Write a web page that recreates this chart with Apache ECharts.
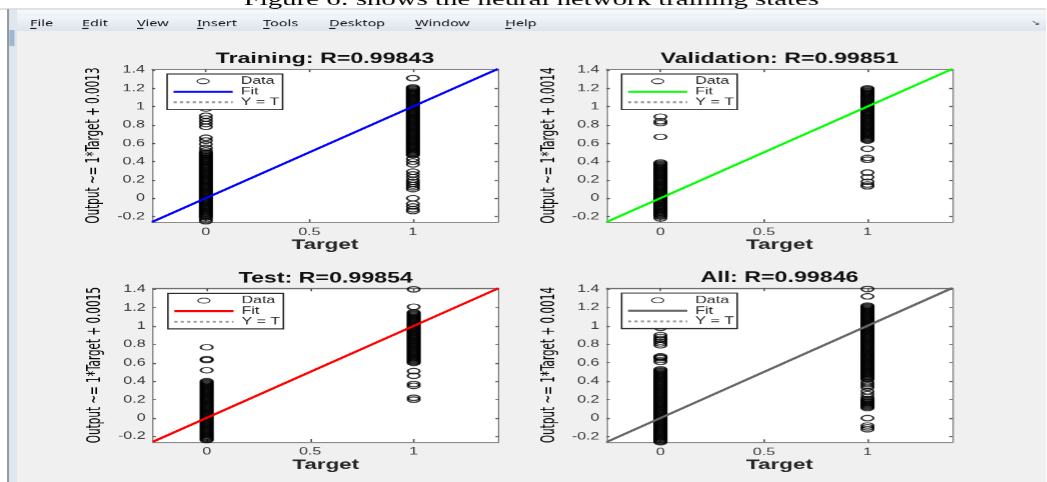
<!DOCTYPE html>
<html><head><meta charset="utf-8">
<script src="https://cdn.jsdelivr.net/npm/echarts@6/dist/echarts.min.js"></script>
<style>
html,body{margin:0;padding:0;background:#fff;overflow:hidden;}
#wrap{width:1047px;height:482px;overflow:hidden;position:relative;}
#c{width:654.375px;height:482px;transform:scaleX(1.6);transform-origin:0 0;}
</style></head><body><div id="wrap"><div id="c"></div></div>
<script>
// ---------- data ----------
const caption = 'Figure 6: shows the neural network training states';
const menuItems = ['File','Edit','View','Insert','Tools','Desktop','Window','Help'];
const panelKeys = ['Training','Validation','Test','All'];
const panelTitles = ['Training: R=0.99843','Validation: R=0.99851','Test: R=0.99854','All: R=0.99846'];
const yAxisNames = ['Output ~= 1*Target + 0.0013','Output ~= 1*Target + 0.0014','Output ~= 1*Target + 0.0015','Output ~= 1*Target + 0.0014'];
const fitSlopes = [1, 1, 1, 1];
const fitIntercepts = [0.0013, 0.0014, 0.0015, 0.0014];
const legendLabels = ['Data', 'Fit', 'Y = T'];
const xTickValues = [0, 0.5, 1];
const yTickValues = [-0.2, 0, 0.2, 0.4, 0.6, 0.8, 1, 1.2, 1.4];
const axisMin = -0.26;
const axisMax = 1.41;

// network outputs for samples whose target is 0 and samples whose target is 1
const trainingAt0 = [0.98, 0.9, 0.87, 0.84, 0.81, 0.78, 0.66, 0.63, 0.59, 0.55, 0.52, 0.5, 0.49, 0.48, 0.47, 0.46, 0.45, 0.44, 0.43, 0.42, 0.41, 0.4, 0.39, 0.38, 0.37, 0.36, 0.35, 0.34, 0.33, 0.32, 0.31, 0.3, 0.29, 0.28, 0.27, 0.26, 0.25, 0.24, 0.23, 0.22, 0.21, 0.2, 0.19, 0.18, 0.17, 0.16, 0.15, 0.14, 0.13, 0.12, 0.11, 0.1, 0.09, 0.08, 0.07, 0.06, 0.05, 0.04, 0.03, 0.02, 0.01, 0, -0.01, -0.02, -0.03, -0.04, -0.05, -0.06, -0.07, -0.08, -0.09, -0.1, -0.11, -0.12, -0.13, -0.14, -0.15, -0.16, -0.17, -0.18, -0.19, -0.2, -0.21, -0.23, -0.25];
const trainingAt1 = [1.31, 1.21, 1.2, 1.19, 1.18, 1.17, 1.16, 1.15, 1.14, 1.13, 1.12, 1.11, 1.1, 1.09, 1.08, 1.07, 1.06, 1.05, 1.04, 1.03, 1.02, 1.01, 1.0, 0.99, 0.98, 0.97, 0.96, 0.95, 0.94, 0.93, 0.92, 0.91, 0.9, 0.89, 0.88, 0.87, 0.86, 0.85, 0.84, 0.83, 0.82, 0.81, 0.8, 0.79, 0.78, 0.77, 0.76, 0.75, 0.74, 0.73, 0.72, 0.71, 0.7, 0.69, 0.68, 0.67, 0.66, 0.65, 0.64, 0.63, 0.62, 0.61, 0.6, 0.59, 0.58, 0.57, 0.56, 0.55, 0.54, 0.53, 0.52, 0.51, 0.5, 0.49, 0.48, 0.47, 0.43, 0.4, 0.37, 0.29, 0.26, 0.23, 0.2, 0.18, 0.16, 0.14, 0.12, 0.1, 0, -0.06, -0.09, -0.12, -0.14];
const validationAt0 = [0.89, 0.84, 0.82, 0.67, 0.39, 0.38, 0.37, 0.36, 0.35, 0.34, 0.33, 0.32, 0.31, 0.3, 0.29, 0.28, 0.27, 0.26, 0.25, 0.24, 0.23, 0.22, 0.21, 0.2, 0.19, 0.18, 0.17, 0.16, 0.15, 0.14, 0.13, 0.12, 0.11, 0.1, 0.09, 0.08, 0.07, 0.06, 0.05, 0.04, 0.03, 0.02, 0.01, 0, -0.01, -0.02, -0.03, -0.04, -0.05, -0.06, -0.07, -0.08, -0.09, -0.1, -0.11, -0.12, -0.13, -0.14, -0.15, -0.16, -0.17, -0.18, -0.19, -0.2, -0.22];
const validationAt1 = [1.2, 1.19, 1.18, 1.17, 1.16, 1.15, 1.14, 1.13, 1.12, 1.11, 1.1, 1.09, 1.08, 1.07, 1.06, 1.05, 1.04, 1.03, 1.02, 1.01, 1.0, 0.99, 0.98, 0.97, 0.96, 0.95, 0.94, 0.93, 0.92, 0.91, 0.9, 0.89, 0.88, 0.87, 0.86, 0.85, 0.84, 0.83, 0.82, 0.81, 0.8, 0.79, 0.78, 0.77, 0.76, 0.75, 0.74, 0.73, 0.72, 0.71, 0.7, 0.69, 0.68, 0.67, 0.66, 0.65, 0.64, 0.63, 0.54, 0.44, 0.42, 0.28, 0.23, 0.18, 0.15, 0.13];
const testAt0 = [0.77, 0.64, 0.63, 0.52, 0.4, 0.39, 0.38, 0.37, 0.36, 0.35, 0.34, 0.33, 0.32, 0.31, 0.3, 0.29, 0.28, 0.27, 0.26, 0.25, 0.24, 0.23, 0.22, 0.21, 0.2, 0.19, 0.18, 0.17, 0.16, 0.15, 0.14, 0.13, 0.12, 0.11, 0.1, 0.09, 0.08, 0.07, 0.06, 0.05, 0.04, 0.03, 0.02, 0.01, 0, -0.01, -0.02, -0.03, -0.04, -0.05, -0.06, -0.07, -0.08, -0.09, -0.1, -0.11, -0.12, -0.13, -0.14, -0.15, -0.16, -0.17, -0.18, -0.19, -0.2, -0.21, -0.22, -0.23, -0.24];
const testAt1 = [1.4, 1.21, 1.15, 1.14, 1.13, 1.12, 1.11, 1.1, 1.09, 1.08, 1.07, 1.06, 1.05, 1.04, 1.03, 1.02, 1.01, 1.0, 0.99, 0.98, 0.97, 0.96, 0.95, 0.94, 0.93, 0.92, 0.91, 0.9, 0.89, 0.88, 0.87, 0.86, 0.85, 0.84, 0.83, 0.82, 0.81, 0.8, 0.79, 0.78, 0.77, 0.76, 0.75, 0.74, 0.73, 0.72, 0.71, 0.7, 0.69, 0.68, 0.67, 0.66, 0.65, 0.64, 0.63, 0.62, 0.61, 0.6, 0.51, 0.46, 0.37, 0.35, 0.22, 0.2];
const allAt0 = [0.98, 0.9, 0.88, 0.86, 0.85, 0.83, 0.81, 0.79, 0.67, 0.66, 0.65, 0.63, 0.61, 0.53, 0.52, 0.51, 0.5, 0.49, 0.48, 0.47, 0.46, 0.45, 0.44, 0.43, 0.42, 0.41, 0.4, 0.39, 0.38, 0.37, 0.36, 0.35, 0.34, 0.33, 0.32, 0.31, 0.3, 0.29, 0.28, 0.27, 0.26, 0.25, 0.24, 0.23, 0.22, 0.21, 0.2, 0.19, 0.18, 0.17, 0.16, 0.15, 0.14, 0.13, 0.12, 0.11, 0.1, 0.09, 0.08, 0.07, 0.06, 0.05, 0.04, 0.03, 0.02, 0.01, 0, -0.01, -0.02, -0.03, -0.04, -0.05, -0.06, -0.07, -0.08, -0.09, -0.1, -0.11, -0.12, -0.13, -0.14, -0.15, -0.16, -0.17, -0.18, -0.19, -0.2, -0.21, -0.22, -0.23, -0.24, -0.25, -0.26];
const allAt1 = [1.4, 1.32, 1.22, 1.21, 1.2, 1.19, 1.18, 1.17, 1.16, 1.15, 1.14, 1.13, 1.12, 1.11, 1.1, 1.09, 1.08, 1.07, 1.06, 1.05, 1.04, 1.03, 1.02, 1.01, 1.0, 0.99, 0.98, 0.97, 0.96, 0.95, 0.94, 0.93, 0.92, 0.91, 0.9, 0.89, 0.88, 0.87, 0.86, 0.85, 0.84, 0.83, 0.82, 0.81, 0.8, 0.79, 0.78, 0.77, 0.76, 0.75, 0.74, 0.73, 0.72, 0.71, 0.7, 0.69, 0.68, 0.67, 0.66, 0.65, 0.64, 0.63, 0.62, 0.61, 0.6, 0.59, 0.58, 0.57, 0.56, 0.55, 0.54, 0.53, 0.52, 0.51, 0.5, 0.49, 0.48, 0.47, 0.46, 0.45, 0.44, 0.43, 0.42, 0.39, 0.37, 0.35, 0.33, 0.29, 0.26, 0.23, 0.21, 0.2, 0.19, 0.18, 0.17, 0.16, 0.15, 0.14, 0.13, 0.12, 0.11, 0, -0.08, -0.1, -0.12];

const outputsAt0 = [trainingAt0, validationAt0, testAt0, allAt0];
const outputsAt1 = [trainingAt1, validationAt1, testAt1, allAt1];

// ---------- styling / layout ----------
const fitColors = ['#0000ff', '#00ff00', '#ff0000', '#666666'];
const gridLefts = [95, 379, 95.5, 379];
const gridTops = [69, 69, 288.3, 288];
const gridW = 216;
const gridHs = [153, 153, 153.5, 154];
const menuX = [18.8, 51.3, 85.6, 123.1, 164.4, 205.6, 259.4, 315.6];
const FONT = "'Liberation Sans', Arial, sans-serif";
const NARROW = "'Liberation Sans Narrow', 'Arial Narrow', 'DejaVu Sans Condensed', sans-serif";
const ellipsePath = 'path://M0,5A7.5,5 0 1,0 15,5A7.5,5 0 1,0 0,5Z';

const grid = [], xAxis = [], yAxis = [], series = [], legend = [], graphic = [];

// window chrome
graphic.push(
  {type:'rect', z:0, shape:{x:0,y:0,width:660,height:9}, style:{fill:'#ffffff'}, silent:true},
  {type:'rect', z:0, shape:{x:0,y:0,width:4.4,height:482}, style:{fill:'#ffffff'}, silent:true},
  {type:'rect', z:0, shape:{x:4.4,y:9,width:660,height:7}, style:{fill:new echarts.graphic.LinearGradient(0,0,0,1,[{offset:0,color:'#fbfcfd'},{offset:1,color:'#eef1f5'}])}, silent:true},
  {type:'rect', z:0, shape:{x:0,y:8.5,width:660,height:1}, style:{fill:'#c4c8cc'}, silent:true},
  {type:'rect', z:0, shape:{x:4.4,y:9,width:1.2,height:473}, style:{fill:'#8e9296'}, silent:true},
  {type:'rect', z:0, shape:{x:5.6,y:9.5,width:5,height:472.5}, style:{fill:'#dfe6ee'}, silent:true},
  {type:'rect', z:0, shape:{x:5.8,y:30,width:3.2,height:16}, style:{fill:'#9fb7d3'}, silent:true},
  {type:'rect', z:0, shape:{x:10.6,y:16,width:650,height:15}, style:{fill:new echarts.graphic.LinearGradient(0,0,0,1,[{offset:0,color:'#f2f5fa'},{offset:1,color:'#dde4ee'}])}, silent:true},
  {type:'text', z:1, x:332, y:0, style:{text:caption, font:"18px 'Liberation Serif', 'Times New Roman', serif", fill:'#000', textAlign:'center', textVerticalAlign:'middle'}, silent:true},
  {type:'text', z:1, x:647, y:23, style:{text:'↘', font:"7px 'DejaVu Sans', sans-serif", fill:'#333', textAlign:'center', textVerticalAlign:'middle'}, silent:true}
);
menuItems.forEach((m, i) => {
  graphic.push({type:'text', z:1, x:menuX[i], y:23.5, style:{text:m, font:"9px 'Noto Sans', sans-serif", fill:'#111', textAlign:'left', textVerticalAlign:'middle'}, silent:true});
  graphic.push({type:'rect', z:1, shape:{x:menuX[i], y:28, width:4, height:0.8}, style:{fill:'#111'}, silent:true});
});

for (let i = 0; i < 4; i++) {
  const key = panelKeys[i];
  grid.push({left:gridLefts[i], top:gridTops[i], width:gridW, height:gridHs[i], show:true, backgroundColor:'#ffffff', borderWidth:0, containLabel:false, outerBoundsMode:'none'});
  const tickStyle = {color:'#555'};
  xAxis.push({type:'value', gridIndex:i, min:axisMin, max:axisMax, position:'bottom',
    axisLine:{show:true, onZero:false, lineStyle:{color:'#6a6a6a', width:1}},
    axisTick:{show:true, inside:true, length:3, customValues:xTickValues, lineStyle:tickStyle},
    axisLabel:{show:true, customValues:xTickValues, color:'#3a3a3a', fontSize:10, fontFamily:FONT, margin:5},
    splitLine:{show:false},
    name:'Target', nameLocation:'middle', nameGap:15,
    nameTextStyle:{fontWeight:'bold', fontSize:14, color:'#262626', fontFamily:FONT}});
  xAxis.push({type:'value', gridIndex:i, min:axisMin, max:axisMax, position:'top',
    axisLine:{show:true, onZero:false, lineStyle:{color:'#6a6a6a', width:1}},
    axisTick:{show:true, inside:true, length:3, customValues:xTickValues, lineStyle:tickStyle},
    axisLabel:{show:false}, splitLine:{show:false}});
  yAxis.push({type:'value', gridIndex:i, min:axisMin, max:axisMax, position:'left',
    axisLine:{show:true, onZero:false, lineStyle:{color:'#6a6a6a', width:0.7}},
    axisTick:{show:true, inside:true, length:2, customValues:yTickValues, lineStyle:tickStyle},
    axisLabel:{show:true, customValues:yTickValues, color:'#3a3a3a', fontSize:10, fontFamily:FONT, margin:4.5},
    splitLine:{show:false},
    name:yAxisNames[i], nameLocation:'middle', nameGap:30, nameRotate:90,
    nameTextStyle:{fontSize:11.6, color:'#000', fontFamily:NARROW}});
  yAxis.push({type:'value', gridIndex:i, min:axisMin, max:axisMax, position:'right',
    axisLine:{show:true, onZero:false, lineStyle:{color:'#6a6a6a', width:0.7}},
    axisTick:{show:true, inside:true, length:2, customValues:yTickValues, lineStyle:tickStyle},
    axisLabel:{show:false}, splitLine:{show:false}});

  const xi = i * 2, yi = i * 2;
  const pts = outputsAt0[i].map(v => [0, v]).concat(outputsAt1[i].map(v => [1, v]));
  const nData = key + '|' + legendLabels[0];
  const nFit = key + '|' + legendLabels[1];
  const nYT = key + '|' + legendLabels[2];
  series.push({type:'scatter', name:nData, xAxisIndex:xi, yAxisIndex:yi, data:pts,
    symbol:'circle', symbolSize:[7.5, 5.5], z:2,
    itemStyle:{color:'rgba(0,0,0,0)', borderColor:'#000', borderWidth:1.2},
    emphasis:{disabled:true}, silent:true});
  series.push({type:'line', name:nYT, xAxisIndex:xi, yAxisIndex:yi,
    data:[[axisMin, axisMin], [axisMax, axisMax]], symbol:'none', showSymbol:false, z:3,
    lineStyle:{color:'#9a9a9a', width:1, type:[2, 2]}, itemStyle:{color:'#9a9a9a'}, silent:true});
  series.push({type:'line', name:nFit, xAxisIndex:xi, yAxisIndex:yi,
    data:[[axisMin, axisMin * fitSlopes[i] + fitIntercepts[i]], [axisMax, axisMax * fitSlopes[i] + fitIntercepts[i]]],
    symbol:'none', showSymbol:false, z:4,
    lineStyle:{color:fitColors[i], width:2}, itemStyle:{color:fitColors[i]}, silent:true});

  legend.push({orient:'vertical', left:gridLefts[i] + 9.4, top:gridTops[i] + 5,
    itemWidth:37, itemHeight:5, itemGap:0, padding:[2, 2, 2, 3],
    borderColor:'#262626', borderWidth:1, backgroundColor:'#ffffff', selectedMode:false,
    textStyle:{fontSize:10, color:'#262626', fontFamily:FONT, lineHeight:10.5},
    formatter: n => n.split('|')[1],
    data:[
      {name:nData, icon:ellipsePath, itemStyle:{borderWidth:0.8}},
      {name:nFit, itemStyle:{opacity:0}},
      {name:nYT, itemStyle:{opacity:0}}
    ]});

  graphic.push({type:'text', z:5, x:gridLefts[i] + gridW / 2, y:gridTops[i] - 10,
    style:{text:panelTitles[i], font:"bold 14.5px 'Liberation Sans', Arial, sans-serif", fill:'#111', textAlign:'center', textVerticalAlign:'middle'}, silent:true});
}

const chart = echarts.init(document.getElementById('c'), null, {renderer:'canvas', devicePixelRatio:1.6});
chart.setOption({
  backgroundColor:'#f0f0f0',
  animation:false,
  grid, xAxis, yAxis, series, legend, graphic
});
</script></body></html>
